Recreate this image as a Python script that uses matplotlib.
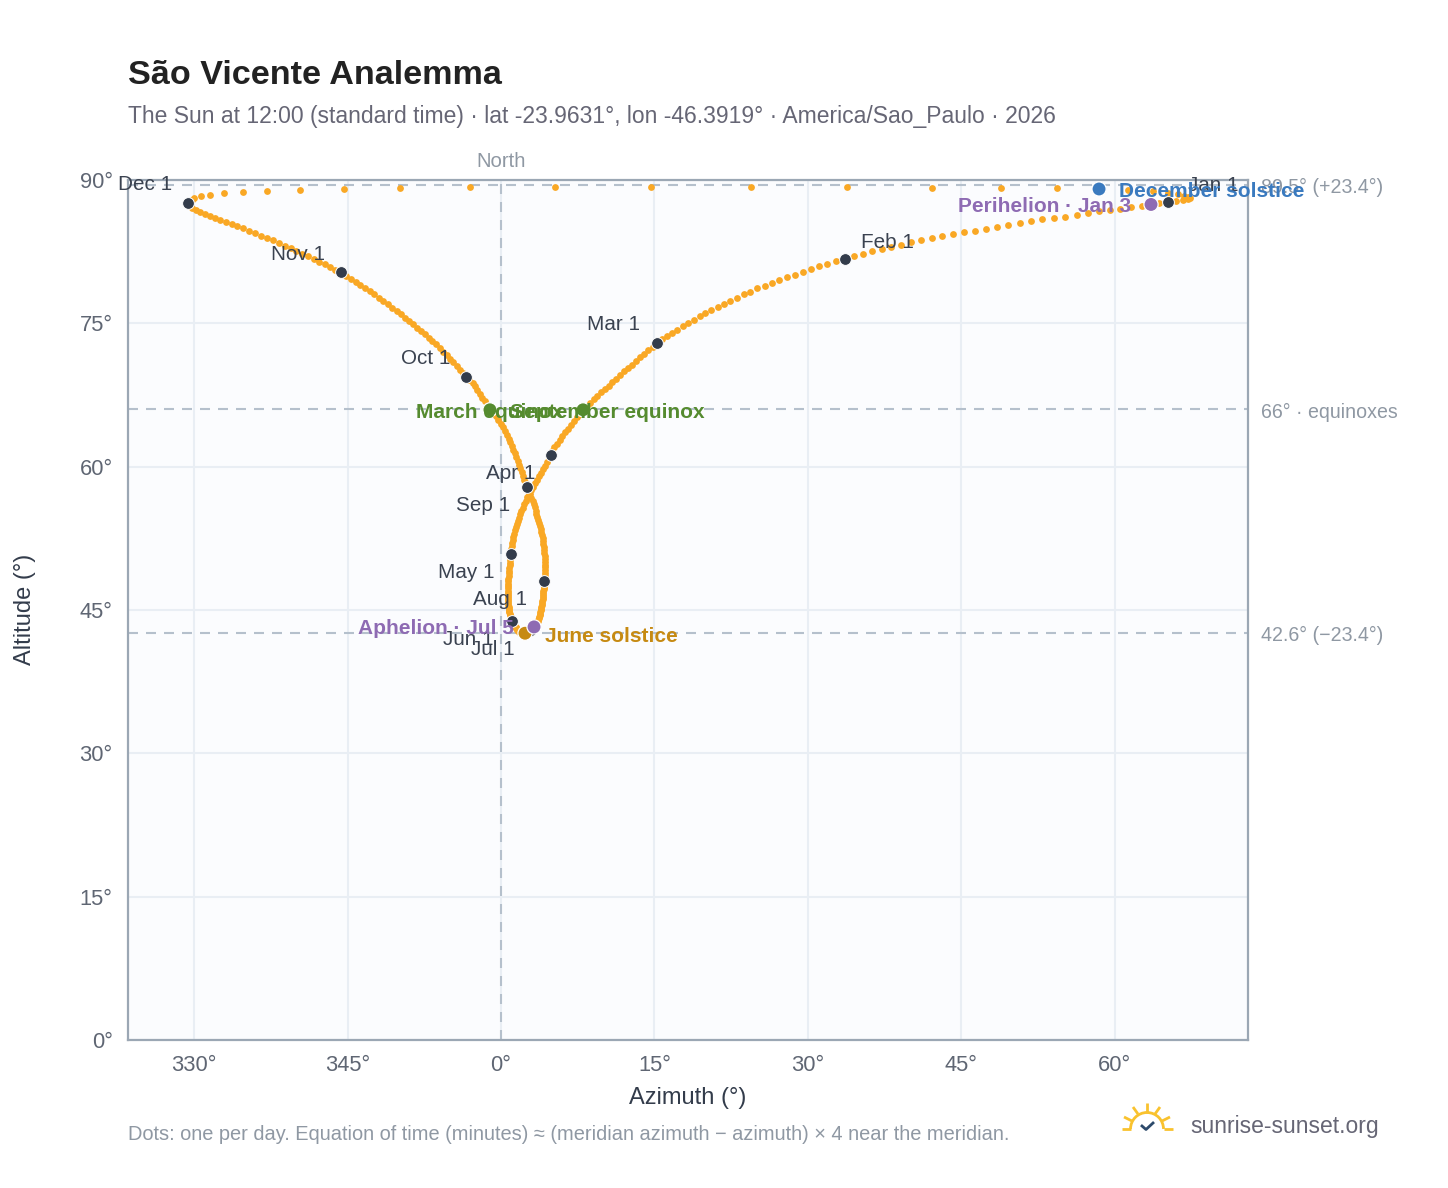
import matplotlib
matplotlib.use("Agg")
import matplotlib.pyplot as plt
import numpy as np
from matplotlib.patches import Arc

# readings, one value per day (degrees)
az_jan = [65.17, 64.32, 63.54, 62.66, 61.58, 60.51, 59.53, 58.46, 57.38, 56.30, 55.13, 54.06, 52.88, 51.81, 50.73, 49.56,
          48.48, 47.41, 46.33, 45.26, 44.18, 43.11, 42.13, 41.06, 40.08, 39.10, 38.12, 37.24, 36.27, 35.39, 34.51]
alt_jan = [87.69, 87.56, 87.44, 87.27, 87.15, 87.01, 86.88, 86.71, 86.57, 86.36, 86.18, 86.06, 85.89, 85.70, 85.52, 85.31,
           85.13, 84.92, 84.71, 84.55, 84.34, 84.13, 83.88, 83.67, 83.46, 83.22, 82.98, 82.73, 82.52, 82.25, 82.00]
az_feb = [33.63, 32.75, 31.90, 31.09, 30.27, 29.49, 28.71, 27.96, 27.20, 26.46, 25.78, 25.05, 24.37, 23.72,
          23.07, 22.41, 21.80, 21.18, 20.56, 19.97, 19.42, 18.84, 18.31, 17.76, 17.23, 16.72, 16.23, 15.74]
alt_feb = [81.72, 81.51, 81.23, 80.95, 80.68, 80.39, 80.11, 79.80, 79.56, 79.24, 78.93, 78.65, 78.33, 78.02,
           77.70, 77.36, 77.04, 76.73, 76.38, 76.07, 75.76, 75.37, 75.06, 74.71, 74.35, 74.01, 73.69, 73.34]
az_mar = [15.25, 14.81, 14.37, 13.98, 13.59, 13.20, 12.81, 12.41, 12.02, 11.63, 11.24, 10.85, 10.51, 10.17, 9.78, 9.43,
          9.09, 8.70, 8.36, 8.02, 7.72, 7.43, 7.14, 6.84, 6.55, 6.26, 5.96, 5.72, 5.47, 5.23, 5.03]
alt_mar = [72.96, 72.57, 72.20, 71.81, 71.43, 71.06, 70.69, 70.32, 69.96, 69.59, 69.22, 68.86, 68.49, 68.13, 67.77, 67.41,
           67.05, 66.68, 66.32, 65.95, 65.56, 65.16, 64.80, 64.38, 63.99, 63.59, 63.23, 62.81, 62.39, 62.02, 61.60]
az_apr = [4.89, 4.68, 4.47, 4.27, 4.07, 3.87, 3.68, 3.49, 3.30, 3.12, 2.94, 2.76, 2.59, 2.43, 2.27,
          2.12, 1.98, 1.85, 1.73, 1.62, 1.52, 1.43, 1.34, 1.27, 1.20, 1.14, 1.09, 1.05, 1.02, 1.00]
alt_apr = [61.24, 60.86, 60.48, 60.10, 59.72, 59.35, 58.98, 58.61, 58.24, 57.87, 57.51, 57.15, 56.79, 56.43, 56.07,
           55.72, 55.37, 55.02, 54.68, 54.34, 54.00, 53.66, 53.33, 53.00, 52.67, 52.35, 52.03, 51.71, 51.40, 51.13]
az_may = [0.98, 0.95, 0.92, 0.89, 0.86, 0.83, 0.80, 0.77, 0.74, 0.72, 0.70, 0.68, 0.67, 0.66, 0.65, 0.65,
          0.65, 0.66, 0.67, 0.68, 0.70, 0.72, 0.74, 0.77, 0.80, 0.83, 0.87, 0.91, 0.96, 1.01, 1.05]
alt_may = [50.87, 50.56, 50.26, 49.96, 49.67, 49.38, 49.10, 48.82, 48.55, 48.28, 48.02, 47.76, 47.51, 47.26, 47.02, 46.79,
           46.56, 46.33, 46.12, 45.91, 45.70, 45.50, 45.31, 45.12, 44.94, 44.77, 44.61, 44.45, 44.30, 44.15, 44.00]
az_jun = [1.08, 1.13, 1.19, 1.25, 1.31, 1.37, 1.43, 1.49, 1.55, 1.61, 1.67, 1.73, 1.79, 1.85, 1.92,
          1.98, 2.05, 2.12, 2.19, 2.27, 2.35, 2.42, 2.48, 2.54, 2.60, 2.65, 2.70, 2.75, 2.80, 2.85]
alt_jun = [43.86, 43.73, 43.60, 43.48, 43.37, 43.27, 43.17, 43.08, 43.00, 42.92, 42.85, 42.79, 42.74, 42.69, 42.65,
           42.62, 42.60, 42.58, 42.57, 42.57, 42.57, 42.58, 42.59, 42.61, 42.63, 42.66, 42.69, 42.72, 42.76, 42.81]
az_jul = [2.90, 2.98, 3.06, 3.14, 3.23, 3.30, 3.37, 3.44, 3.51, 3.57, 3.63, 3.68, 3.73, 3.78, 3.82, 3.86,
          3.89, 3.92, 3.95, 3.98, 4.01, 4.04, 4.06, 4.08, 4.10, 4.12, 4.14, 4.16, 4.17, 4.18, 4.19]
alt_jul = [42.86, 42.92, 43.00, 43.10, 43.23, 43.34, 43.45, 43.57, 43.70, 43.83, 43.97, 44.12, 44.27, 44.43, 44.60, 44.77,
           44.95, 45.14, 45.33, 45.53, 45.73, 45.94, 46.15, 46.36, 46.57, 46.78, 46.99, 47.20, 47.41, 47.62, 47.84]
az_aug = [4.20, 4.23, 4.26, 4.28, 4.29, 4.30, 4.30, 4.30, 4.29, 4.27, 4.25, 4.22, 4.19, 4.15, 4.11, 4.06,
          4.00, 3.94, 3.87, 3.80, 3.72, 3.64, 3.56, 3.47, 3.38, 3.29, 3.19, 3.09, 2.98, 2.87, 2.70]
alt_aug = [48.05, 48.33, 48.61, 48.89, 49.18, 49.47, 49.76, 50.05, 50.35, 50.65, 50.95, 51.25, 51.56, 51.87, 52.18, 52.49,
           52.81, 53.13, 53.45, 53.77, 54.09, 54.42, 54.75, 55.08, 55.41, 55.74, 56.08, 56.42, 56.76, 57.11, 57.49]
az_sep = [2.54, 2.40, 2.27, 2.14, 2.01, 1.88, 1.76, 1.62, 1.48, 1.34, 1.20, 1.05, 0.90, 0.74, 0.56,
          0.38, 0.19, -0.01, -0.25, -0.52, -0.80, -1.10, -1.34, -1.58, -1.82, -2.06, -2.30, -2.54, -2.78, -3.08]
alt_sep = [57.89, 58.27, 58.65, 59.04, 59.43, 59.82, 60.21, 60.60, 60.99, 61.38, 61.77, 62.16, 62.55, 62.94, 63.33,
           63.72, 64.11, 64.50, 64.89, 65.28, 65.67, 66.06, 66.45, 66.84, 67.23, 67.62, 68.01, 68.40, 68.79, 69.08]
az_oct = [-3.42, -3.72, -4.03, -4.34, -4.66, -4.99, -5.32, -5.66, -6.00, -6.35, -6.71, -7.07, -7.44, -7.82, -8.20, -8.59,
          -8.99, -9.39, -9.80, -10.21, -10.63, -11.06, -11.49, -11.93, -12.38, -12.83, -13.29, -13.75, -14.22, -14.70, -15.18]
alt_oct = [69.40, 69.78, 70.16, 70.54, 70.92, 71.30, 71.68, 72.05, 72.42, 72.79, 73.15, 73.50, 73.85, 74.20, 74.55, 74.90,
           75.25, 75.60, 75.95, 76.30, 76.65, 77.00, 77.35, 77.70, 78.03, 78.36, 78.69, 79.02, 79.35, 79.67, 80.00]
az_nov = [-15.67, -16.20, -16.72, -17.20, -17.76, -18.31, -18.90, -19.45, -20.01, -20.56, -21.14, -21.70, -22.29, -22.87, -23.46,
          -24.05, -24.63, -25.19, -25.78, -26.33, -26.88, -27.44, -27.96, -28.45, -28.93, -29.39, -29.81, -30.21, -30.47, -30.57]
alt_nov = [80.32, 80.60, 80.88, 81.16, 81.44, 81.72, 82.00, 82.28, 82.59, 82.87, 83.12, 83.40, 83.71, 83.95, 84.19,
           84.44, 84.69, 84.93, 85.14, 85.39, 85.63, 85.84, 86.05, 86.26, 86.47, 86.68, 86.88, 87.09, 87.23, 87.41]
az_dec = [-30.60, -30.45, -30.25, -30.01, -29.33, -28.42, -27.08, -25.25, -22.84, -19.62, -15.38, -9.90, -3.03, 5.28, 14.66, 24.44,
          33.82, 42.13, 48.88, 54.32, 58.46, 61.29, 63.73, 65.20, 66.18, 66.76, 67.16, 67.35, 67.16, 66.67, 65.98]
alt_dec = [87.62, 87.83, 87.95, 88.07, 88.28, 88.42, 88.59, 88.70, 88.80, 88.95, 89.05, 89.15, 89.22, 89.24, 89.24, 89.24,
           89.22, 89.18, 89.15, 89.12, 89.06, 88.98, 88.80, 88.66, 88.51, 88.35, 88.19, 88.09, 87.98, 87.88, 87.77]

month_names = ["Jan", "Feb", "Mar", "Apr", "May", "Jun", "Jul", "Aug", "Sep", "Oct", "Nov", "Dec"]
az_months = [az_jan, az_feb, az_mar, az_apr, az_may, az_jun, az_jul, az_aug, az_sep, az_oct, az_nov, az_dec]
alt_months = [alt_jan, alt_feb, alt_mar, alt_apr, alt_may, alt_jun, alt_jul, alt_aug, alt_sep, alt_oct, alt_nov, alt_dec]

event_names = ["June solstice", "December solstice", "March equinox", "September equinox", "Perihelion · Jan 3", "Aphelion · Jul 5"]
event_az = [2.35, 58.46, 8.02, -1.08, 63.54, 3.23]
event_alt = [42.57, 89.06, 65.95, 65.95, 87.44, 43.23]
event_colors = ["#c68a12", "#3a7abf", "#558b2f", "#558b2f", "#8e6bb3", "#8e6bb3"]
# (dx, dy, ha) from the marker, in pixels
event_offsets = [(20, -3, "left"), (20, -3, "left"), (-20, -3, "right"), (20, -3, "left"), (-20, -2, "right"), (-20, -2, "right")]

ref_alt = [89.5, 66, 42.6]
ref_labels = ["89.5° (+23.4°)", "66° · equinoxes", "42.6° (−23.4°)"]

x_ticks = [-30, -15, 0, 15, 30, 45, 60]
x_tick_labels = ["330°", "345°", "0°", "15°", "30°", "45°", "60°"]
y_ticks = [0, 15, 30, 45, 60, 75, 90]
y_tick_labels = ["0°", "15°", "30°", "45°", "60°", "75°", "90°"]

# month label offset from its dot, pixels
label_offsets = [(20, 17, "left"), (16, 17, "left"), (-17, 18, "right"), (-16, -19, "right"),
                 (-17, -19, "right"), (-19, -19, "right"), (-16, -19, "right"), (-17, -19, "right"),
                 (-17, -19, "right"), (-16, 18, "right"), (-16, 18, "right"), (-16, 18, "right")]

plt.rcParams["font.family"] = ["Liberation Sans", "DejaVu Sans"]

W, H = 1448, 1188
fig = plt.figure(figsize=(W / 200, H / 200), dpi=200, facecolor="white")
ax = fig.add_axes([128 / W, 1 - 1040 / H, 1120 / W, 860 / H], facecolor="#fbfcfe")
ax.set_xlim(-36.46, 73.02)
ax.set_ylim(0, 90)

ax.set_xticks(x_ticks)
ax.set_xticklabels(x_tick_labels)
ax.set_yticks(y_ticks)
ax.set_yticklabels(y_tick_labels)
ax.tick_params(length=0, labelsize=7.9, labelcolor="#5f6673", pad=5.5)
ax.grid(True, color="#e9eef4", lw=0.75, zorder=0)
ax.set_axisbelow(True)
for s in ax.spines.values():
    s.set_color("#9ba7b4")
    s.set_linewidth(0.8)

for a in ref_alt:
    ax.axhline(a, color="#b5c0cc", lw=0.75, dashes=(4.8, 3.84), zorder=1)
ax.axvline(0, color="#b5c0cc", lw=0.75, dashes=(4.8, 3.84), zorder=1)

trans = ax.get_yaxis_transform()
for a, t in zip(ref_alt, ref_labels):
    ax.annotate(t, xy=(1, a), xycoords=trans, xytext=(13, -3), textcoords="offset pixels",
                ha="left", va="center", fontsize=7.05, color="#8f98a3", annotation_clip=False)
ax.annotate("North", xy=(0, 90), xytext=(0, 9), textcoords="offset pixels", ha="center", va="bottom",
            fontsize=7.3, color="#8f98a3", annotation_clip=False)

# one dot per day
az_all = np.concatenate(az_months)
alt_all = np.concatenate(alt_months)
ax.scatter(az_all, alt_all, s=6, color="#f9a825", linewidths=0, zorder=3, clip_on=False)

# first of each month
az_first = [m[0] for m in az_months]
alt_first = [m[0] for m in alt_months]
ax.scatter(az_first, alt_first, s=18, color="#333c4b", edgecolors="white", linewidths=0.35, zorder=4, clip_on=False)
for name, x, y, off in zip(month_names, az_first, alt_first, label_offsets):
    ax.annotate(name + " 1", xy=(x, y), xytext=off[:2], textcoords="offset pixels", ha=off[2], va="center",
                fontsize=7.45, color="#3a4250", zorder=6, annotation_clip=False)

ax.scatter(event_az, event_alt, s=26, c=event_colors, edgecolors="white", linewidths=0.45, zorder=5, clip_on=False)
for name, x, y, col, off in zip(event_names, event_az, event_alt, event_colors, event_offsets):
    ax.annotate(name, xy=(x, y), xytext=off[:2], textcoords="offset pixels", ha=off[2], va="center",
                fontsize=7.5, fontweight="bold", color=col, zorder=6, annotation_clip=False)

ax.set_xlabel("Azimuth (°)", fontsize=8.5, color="#333c4b", labelpad=4)
fig.text(25 / W, 1 - 609 / H, "Altitude (°)", rotation=90, ha="center", va="center", fontsize=8.5, color="#333c4b")

fig.text(128 / W, 1 - 75 / H, "São Vicente Analemma", fontsize=12.3, fontweight="bold", color="#222222", ha="left", va="center")
fig.text(128 / W, 1 - 117 / H, "The Sun at 12:00 (standard time) · lat -23.9631°, lon -46.3919° · America/Sao_Paulo · 2026",
         fontsize=8.23, color="#666675", ha="left", va="center")
fig.text(128 / W, 1 - 1135 / H, "Dots: one per day. Equation of time (minutes) ≈ (meridian azimuth − azimuth) × 4 near the meridian.",
         fontsize=7.19, color="#8f98a3", ha="left", va="center")
fig.text(1190 / W, 1 - 1126 / H, "sunrise-sunset.org", fontsize=8.26, color="#666675", ha="left", va="center")

# logo, drawn in picture pixels
logo = fig.add_axes([0, 0, 1, 1], facecolor="none")
logo.set_xlim(0, W)
logo.set_ylim(H, 0)
logo.axis("off")
sun = "#f9c22e"
logo.add_patch(Arc((1147, 1129), 33, 33, theta1=180, theta2=360, color=sun, lw=1.0))
for xs, ys in [((1122, 1131), (1129, 1129)), ((1164, 1173), (1129, 1129)), ((1147, 1147), (1103, 1113)),
               ((1133, 1138), (1107, 1114)), ((1160, 1155), (1107, 1114)), ((1124, 1132), (1117, 1121)),
               ((1170, 1162), (1117, 1121))]:
    logo.plot(xs, ys, color=sun, lw=1.0, solid_capstyle="butt")
logo.plot([1142, 1146, 1153], [1126, 1129.5, 1123], color="#2d4a6b", lw=1.0)

fig.savefig("out.png", dpi=200)
